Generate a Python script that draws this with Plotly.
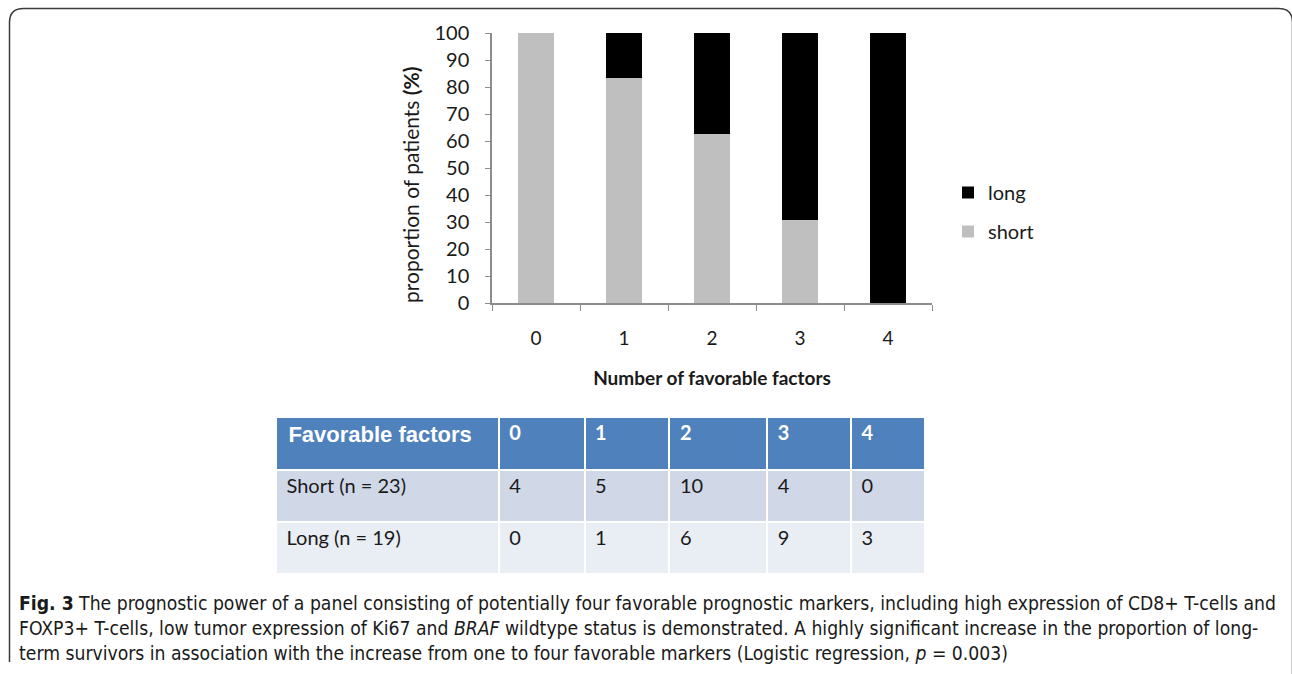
import plotly.graph_objects as go

W, H = 1292, 674

# ---- data ----
categories = ["0", "1", "2", "3", "4"]
short_counts = [4, 5, 10, 4, 0]
long_counts = [0, 1, 6, 9, 3]
short_pct = [100.0, 83.3, 62.5, 30.8, 0.0]
long_pct = [0.0, 16.7, 37.5, 69.2, 100.0]

table_header = ["Favorable factors", "0", "1", "2", "3", "4"]
row_labels = ["Short (n = 23)", "Long (n = 19)"]

y_title = "proportion of patients <b>(%)</b>"
x_title = "<b>Number of favorable factors</b>"

caption = ("<b>Fig. 3</b> The prognostic power of a panel consisting of potentially four favorable prognostic markers, "
           "including high expression of CD8+ T-cells and<br>"
           "FOXP3+ T-cells, low tumor expression of Ki67 and <i>BRAF</i> wildtype status is demonstrated. "
           "A highly significant increase in the proportion of long-<br>"
           "term survivors in association with the increase from one to four favorable markers "
           "(Logistic regression, <i>p</i> = 0.003)")


def px(x):
    return x / W


def py(y):
    return 1 - y / H


FONT = "Lato, Calibri, 'Open Sans', sans-serif"
TXT = "#1a1a1a"
PAD = "\u2009"

fig = go.Figure()
fig.add_trace(go.Bar(x=categories, y=short_pct, name="short", marker=dict(color="#BFBFBF", line=dict(width=0)),
                     legendgroup="s", legendrank=2))
fig.add_trace(go.Bar(x=categories, y=long_pct, name="long", marker=dict(color="#000000", line=dict(width=0)),
                     legendgroup="l", legendrank=1))

# table
cell_cols = [[PAD + t for t in row_labels]] + [[PAD + str(s), PAD + str(l)]
                                               for s, l in zip(short_counts, long_counts)]
fig.add_trace(go.Table(
    domain=dict(x=[px(276), px(926)], y=[py(575), py(417)]),
    columnwidth=[223, 86, 85, 98, 84, 74],
    header=dict(values=[PAD + t for t in table_header],
                fill_color="#4F81BD",
                line=dict(color="white", width=2),
                align="left",
                height=53,
                font=dict(color="white", size=[22, 20, 20, 20, 20, 20],
                          family=["Liberation Sans", FONT, FONT, FONT, FONT, FONT],
                          weight="bold")),
    cells=dict(values=cell_cols,
               fill_color=[["#D0D8E8", "#E9EDF4"]] * 6,
               line=dict(color="white", width=2),
               align="left",
               height=52,
               font=dict(color=TXT, size=20, family=FONT)),
))

fig.update_layout(
    width=W, height=H,
    margin=dict(l=0, r=0, t=0, b=0, autoexpand=False),
    paper_bgcolor="white", plot_bgcolor="white",
    barmode="stack", bargap=0.6,
    font=dict(family=FONT, color=TXT, size=19),
    xaxis=dict(domain=[px(492), px(932)], type="category", automargin=False,
               showline=True, linecolor="#8c8c8c", linewidth=1.5,
               ticks="outside", tickson="boundaries", ticklen=6, tickcolor="#8c8c8c",
               tickfont=dict(size=19), ticklabelstandoff=17,
               showgrid=False,
               title=dict(text=x_title, font=dict(size=19), standoff=24)),
    yaxis=dict(domain=[py(303), py(33)], range=[0, 100], dtick=10, automargin=False,
               showline=True, linecolor="#8c8c8c", linewidth=1.5,
               ticks="outside", ticklen=5, tickcolor="#8c8c8c",
               tickfont=dict(size=20), ticklabelstandoff=12, showgrid=False, zeroline=False),
    legend=dict(x=px(948), y=py(173), xanchor="left", yanchor="top",
                traceorder="grouped", tracegroupgap=10,
                font=dict(size=20), bgcolor="rgba(0,0,0,0)"),
)

# y axis title
fig.add_annotation(xref="paper", yref="paper", x=px(410), y=py(185), xanchor="center", yanchor="middle",
                   text=y_title, textangle=-90, showarrow=False, font=dict(size=21, family=FONT, color=TXT))

# frame with rounded corners
r = 14
x0, x1, y0, y1 = 9.5, 1292.5, 8.5, 676
path = (f"M {px(x0)},{py(y1 - r)} L {px(x0)},{py(y0 + r)} Q {px(x0)},{py(y0)} {px(x0 + r)},{py(y0)} "
        f"L {px(x1 - r)},{py(y0)} Q {px(x1)},{py(y0)} {px(x1)},{py(y0 + r)} L {px(x1)},{py(y1)}")
fig.add_shape(type="path", xref="paper", yref="paper", path=path,
              line=dict(color="#3a3a3a", width=1.5))

fig.add_annotation(xref="paper", yref="paper", x=px(17), y=py(590), xanchor="left", yanchor="top",
                   text=caption, showarrow=False, align="left",
                   font=dict(family="'Liberation Sans Narrow', 'DejaVu Sans Condensed', sans-serif",
                             size=19.2, color=TXT))

pin = ("document.body.style.margin='0';"
       "var d=document.getElementById('{plot_id}');"
       "d.style.position='fixed';d.style.top='0';d.style.left='0';")
fig.write_html("out.html", config={"displayModeBar": False}, post_script=pin)
